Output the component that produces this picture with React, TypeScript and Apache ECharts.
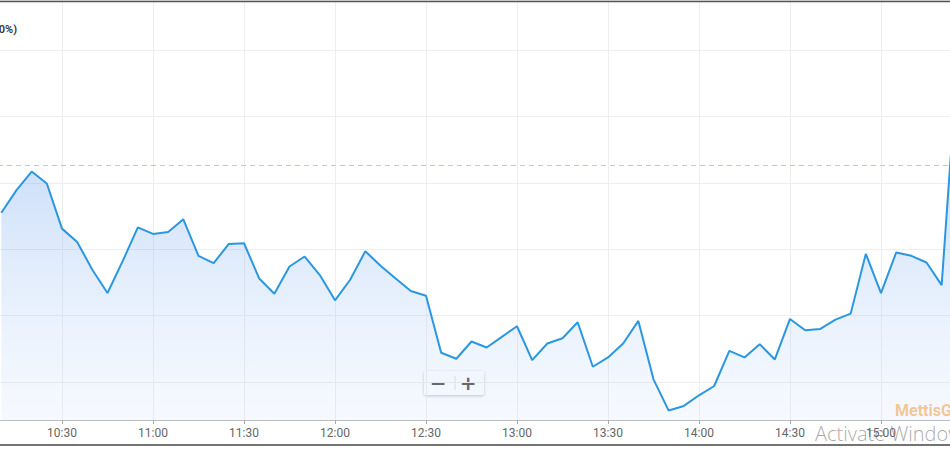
import React, { useEffect, useRef } from "react";
import * as echarts from "echarts";

// Intraday sample times (5-minute steps) and index change values (relative units)
const times = [
  "10:10", "10:15", "10:20", "10:25", "10:30", "10:35", "10:40", "10:45", "10:50", "10:55",
  "11:00", "11:05", "11:10", "11:15", "11:20", "11:25", "11:30", "11:35", "11:40", "11:45",
  "11:50", "11:55", "12:00", "12:05", "12:10", "12:15", "12:20", "12:25", "12:30", "12:35",
  "12:40", "12:45", "12:50", "12:55", "13:00", "13:05", "13:10", "13:15", "13:20", "13:25",
  "13:30", "13:35", "13:40", "13:45", "13:50", "13:55", "14:00", "14:05", "14:10", "14:15",
  "14:20", "14:25", "14:30", "14:35", "14:40", "14:45", "14:50", "14:55", "15:00", "15:05",
  "15:10", "15:15", "15:20", "15:25",
];
const values = [
  2.55, 2.89, 3.17, 2.99, 2.31, 2.11, 1.69, 1.34, 1.82, 2.33,
  2.23, 2.26, 2.45, 1.9, 1.79, 2.08, 2.09, 1.56, 1.33, 1.74,
  1.89, 1.61, 1.23, 1.54, 1.97, 1.75, 1.56, 1.37, 1.3, 0.44,
  0.35, 0.61, 0.52, 0.68, 0.84, 0.33, 0.58, 0.66, 0.9, 0.23,
  0.37, 0.58, 0.92, 0.04, -0.43, -0.36, -0.2, -0.06, 0.47, 0.37,
  0.57, 0.34, 0.95, 0.78, 0.8, 0.94, 1.03, 1.93, 1.34, 1.95,
  1.9, 1.8, 1.46, 4.7,
];
const referenceLevel = 3.27;
const titleText = "(0.00%)";
const brandText = "MettisGlobal";
const osText = "Activate Windows";

const toMin = (t: string) => {
  const [h, m] = t.split(":").map(Number);
  return h * 60 + m;
};
const fmt = (v: number) => {
  const h = Math.floor(v / 60);
  const m = Math.round(v % 60);
  return `${h}:${m < 10 ? "0" + m : m}`;
};

const OX = 60; // chart is shifted left by 60px inside clipped wrapper

export default function App() {
  const ref = useRef<HTMLDivElement>(null);
  useEffect(() => {
    if (!ref.current) return;
    const chart = echarts.init(ref.current, undefined, { renderer: "svg" });
    const data = times.map((t, i) => [toMin(t), values[i]]);
    chart.setOption({
      animation: false,
      grid: { left: 31, width: 1001, top: 0, height: 420 },
      xAxis: {
        type: "value",
        min: 600,
        max: 930,
        interval: 30,
        axisLine: { onZero: false, lineStyle: { color: "#bdbdbd", width: 1 } },
        axisTick: { show: true, length: 4, lineStyle: { color: "#aaa" } },
        axisLabel: {
          color: "#666",
          fontSize: 12,
          fontFamily: "Roboto",
          margin: 7,
          formatter: (v: number) => fmt(v),
        },
        splitLine: { show: true, lineStyle: { color: "#eeeeee", width: 1 } },
      },
      yAxis: {
        type: "value",
        min: -0.572,
        max: 5.753,
        splitNumber: 6,
        axisLine: { show: false },
        axisTick: { show: false },
        axisLabel: { show: false },
        splitLine: { show: true, lineStyle: { color: "#eeeeee", width: 1 } },
      },
      series: [
        {
          type: "line",
          data,
          showSymbol: false,
          symbol: "none",
          lineStyle: { color: "#2a97e0", width: 2 },
          areaStyle: {
            origin: "start",
            color: new echarts.graphic.LinearGradient(0, 0, 0, 1, [
              { offset: 0, color: "rgba(76,140,236,0.6)" },
              { offset: 0.5, color: "rgba(120,170,240,0.35)" },
              { offset: 1, color: "rgba(190,215,250,0.2)" },
            ]),
          },
          markLine: {
            silent: true,
            symbol: "none",
            label: { show: false },
            lineStyle: { type: [5, 4], color: "#bfcfb2", width: 1 },
            data: [{ yAxis: referenceLevel }],
          },
        },
      ],
      graphic: [
        { type: "line", shape: { x1: 0, y1: 1.5, x2: 1080, y2: 1.5 }, style: { stroke: "#555", lineWidth: 1.5 }, z: 50 },
        { type: "line", shape: { x1: 0, y1: 445, x2: 1080, y2: 445 }, style: { stroke: "#444", lineWidth: 1.5 }, z: 50 },
        { type: "rect", shape: { x: 0, y: 446, width: 1080, height: 4 }, style: { fill: "#fff" }, z: 49 },
        {
          type: "text",
          x: OX + 17,
          y: 29,
          style: { text: titleText, align: "right", verticalAlign: "middle", fontSize: 11, fontWeight: 600, fill: "#333", fontFamily: "Roboto" },
          z: 50,
        },
        {
          type: "group",
          z: 60,
          children: [
            {
              type: "rect",
              shape: { x: OX + 424, y: 371, width: 60, height: 24, r: 2 },
              style: { fill: "#fff", shadowBlur: 3, shadowOffsetY: 1, shadowColor: "rgba(0,0,0,0.25)" },
            },
            { type: "line", shape: { x1: OX + 455, y1: 376, x2: OX + 455, y2: 390 }, style: { stroke: "#ddd", lineWidth: 1 } },
            {
              type: "text",
              x: OX + 438,
              y: 383,
              style: { text: "−", align: "center", verticalAlign: "middle", fontSize: 20, fontWeight: "bold", fill: "#555", fontFamily: "DejaVu Sans" },
            },
            {
              type: "text",
              x: OX + 468,
              y: 383,
              style: { text: "+", align: "center", verticalAlign: "middle", fontSize: 20, fontWeight: "bold", fill: "#555", fontFamily: "DejaVu Sans" },
            },
          ],
        },
        {
          type: "text",
          x: OX + 895,
          y: 410,
          style: { text: brandText, align: "left", verticalAlign: "middle", fontSize: 16, fontWeight: "bold", fill: "rgba(240,155,60,0.55)", fontFamily: "Roboto" },
          z: 55,
        },
        {
          type: "text",
          x: OX + 815,
          y: 433,
          style: { text: osText, align: "left", verticalAlign: "middle", fontSize: 20, fontWeight: 300, fill: "rgba(110,110,110,0.6)", fontFamily: "Open Sans" },
          z: 55,
        },
      ],
    });
    return () => chart.dispose();
  }, []);
  return (
    <div style={{ position: "fixed", left: 0, top: 0, width: 950, height: 450, overflow: "hidden", background: "#fff" }}>
      <div ref={ref} style={{ position: "absolute", left: -OX, top: 0, width: 1080, height: 450 }} />
    </div>
  );
}
